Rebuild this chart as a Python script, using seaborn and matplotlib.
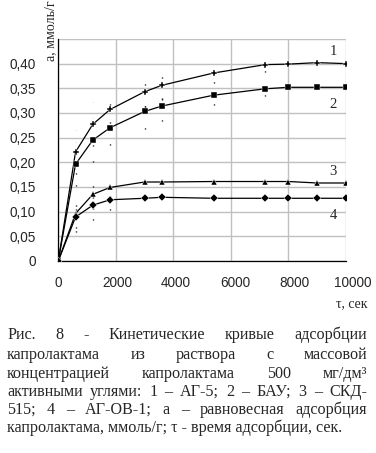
import numpy as np
import pandas as pd
import matplotlib
matplotlib.use("Agg")
import matplotlib.pyplot as plt
import matplotlib.transforms as mtransforms
import seaborn as sns

# время адсорбции, сек
tau = [0, 600, 1200, 1800, 3000, 3600, 5400, 7200, 8000, 9000, 10000]
# равновесная адсорбция, ммоль/г
a_ag5 = [0, 0.221, 0.277, 0.307, 0.343, 0.356, 0.381, 0.398, 0.399, 0.402, 0.400]
a_bau = [0, 0.196, 0.245, 0.270, 0.303, 0.314, 0.336, 0.349, 0.352, 0.352, 0.352]
a_skd = [0, 0.096, 0.135, 0.149, 0.160, 0.160, 0.161, 0.161, 0.161, 0.158, 0.158]
a_agov = [0, 0.089, 0.113, 0.124, 0.127, 0.129, 0.127, 0.127, 0.127, 0.127, 0.127]
# разброс (точечные отметки)
err_ag5 = [0, 0.045, 0.045, 0.035, 0.03, 0.03, 0.02, 0.015, 0, 0, 0]
err_bau = [0, 0.045, 0.045, 0.035, 0.035, 0.03, 0.02, 0.015, 0, 0, 0]
err_skd = [0, 0.03, 0.03, 0.02, 0, 0, 0, 0, 0, 0, 0]
err_agov = [0, 0.03, 0.03, 0.02, 0, 0, 0, 0, 0, 0, 0]

series = ["1", "2", "3", "4"]
values = [a_ag5, a_bau, a_skd, a_agov]
errors = [err_ag5, err_bau, err_skd, err_agov]
label_y = [0.425, 0.318, 0.181, 0.093]

yticks = [0, 0.05, 0.10, 0.15, 0.20, 0.25, 0.30, 0.35, 0.40]
ytick_labels = ["0", "0,05", "0,10", "0,15", "0,20", "0,25", "0,30", "0,35", "0,40"]
xticks = [0, 2000, 4000, 6000, 8000, 10000]

caption_lines = [
    "Рис. 8 - Кинетические кривые адсорбции",
    "капролактама из раствора с массовой",
    "концентрацией капролактама 500 мг/дм³",
    "активными углями: 1 – АГ-5; 2 – БАУ; 3 – СКД-",
    "515; 4 – АГ-ОВ-1; а – равновесная адсорбция",
]
caption_last = "капролактама, ммоль/г; τ - время адсорбции, сек."

df = pd.DataFrame({
    "tau": tau * 4,
    "a": sum(values, []),
    "curve": sum([[s] * len(tau) for s in series], []),
})

sns.set_style("white")
plt.rcParams["font.family"] = ["Liberation Sans", "DejaVu Sans"]

fig = plt.figure(figsize=(3.76, 4.53), dpi=100)
ax = fig.add_axes([0.155, 0.424, 0.765, 0.490])

# dotted scatter marks
for v, e in zip(values, errors):
    lo = [vi - ei for vi, ei in zip(v, e)]
    hi = [vi + ei for vi, ei in zip(v, e)]
    ax.vlines(tau, lo, hi, colors="black", linewidth=1.0,
              linestyles=[(0, (0.8, 15))], zorder=1)

sns.lineplot(data=df, x="tau", y="a", hue="curve", style="curve",
             palette=["black"] * 4, markers=["P", "s", "^", "D"],
             dashes=False, markersize=4.5, linewidth=0.9,
             markeredgewidth=0.3, legend=False, ax=ax, zorder=3)

ax.set_xlim(0, 10000)
ax.set_ylim(0, 0.45)
ax.set_xticks(xticks)
ax.set_xticklabels([str(t) for t in xticks], fontsize=9.8)
ax.set_yticks(yticks)
ax.set_yticklabels(ytick_labels, fontsize=9.8)
ax.set_yticks([0.45], minor=True)
ax.grid(True, which="both", color="#c0c0c0", linewidth=1.0)
ax.set_axisbelow(True)
ax.tick_params(axis="both", which="major", direction="out", length=4,
               width=0.9, color="black")
ax.tick_params(axis="y", which="major", pad=12)
ax.tick_params(axis="x", which="major", pad=7)
ax.tick_params(axis="y", which="minor", length=0)
for side in ["top", "right"]:
    ax.spines[side].set_visible(False)
for side in ["left", "bottom"]:
    ax.spines[side].set_color("black")
    ax.spines[side].set_linewidth(0.9)
ax.set_xlabel("")
ax.set_ylabel("")

# x labels sit a little to the right, more so further along
for i, lab in enumerate(ax.get_xticklabels()):
    lab.set_transform(lab.get_transform() + mtransforms.ScaledTranslation(
        0.07 * i / 5, 0, fig.dpi_scale_trans))

for s, ly in zip(series, label_y):
    ax.text(9550, ly, s, fontsize=10.5, family="Liberation Serif",
            ha="center", va="center")

W, H = fig.get_size_inches() * fig.dpi
fig.text(368 / W, 1 - 304 / H, "τ, сек", family="Liberation Serif",
         fontsize=10, ha="right", va="center")
fig.text(51 / W, 1 - 0 / H, "а, ммоль/г", family="Liberation Serif",
         fontsize=10, rotation=90, ha="center", va="top")

# justified caption
renderer = fig.canvas.get_renderer()
x0, x1 = 7, 367
line_y = [335, 355, 374, 392, 410]
cap_size = 11.6
for line, yy in zip(caption_lines, line_y):
    words = line.split(" ")
    texts = [fig.text(0, 1 - yy / H, w, family="Liberation Serif",
                      fontsize=cap_size, va="center", ha="left") for w in words]
    widths = [t.get_window_extent(renderer).width for t in texts]
    gap = (x1 - x0 - sum(widths)) / (len(words) - 1)
    x = x0
    for t, w in zip(texts, widths):
        t.set_x(x / W)
        x += w + gap
fig.text(x0 / W, 1 - 428 / H, caption_last, family="Liberation Serif",
         fontsize=cap_size, va="center", ha="left")

fig.savefig("out.png", dpi=100)
